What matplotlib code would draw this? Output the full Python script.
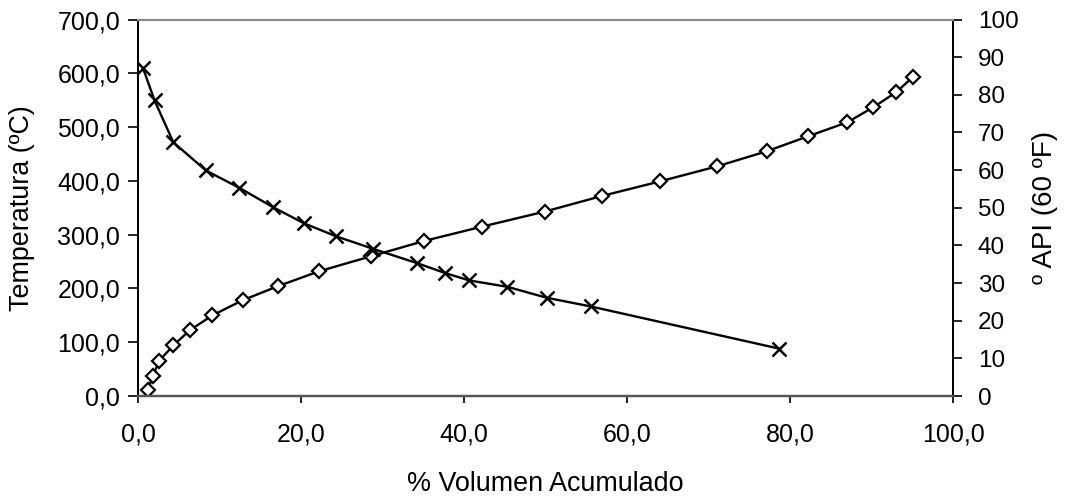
import matplotlib
matplotlib.use('Agg')
import matplotlib.pyplot as plt
from matplotlib.ticker import FuncFormatter, MultipleLocator

plt.rcParams['font.family'] = ['Liberation Sans', 'DejaVu Sans']

# Temperatura vs % volumen (rombos, eje izquierdo)
vol_temp = [1.2, 1.8, 2.6, 4.3, 6.3, 9.1, 12.8, 17.1, 22.2, 28.6, 35.0, 42.2,
            49.9, 56.9, 64.0, 71.0, 77.1, 82.2, 87.0, 90.2, 93.0, 95.1]
temp = [12, 38, 66, 94, 122, 150, 178, 204, 232, 260, 288, 315,
        343, 372, 399, 427, 455, 483, 509, 537, 565, 594]

# API vs % volumen (cruces, eje derecho)
vol_api = [0.6, 2.0, 4.3, 8.3, 12.4, 16.5, 20.3, 24.3, 28.8, 34.2, 37.6,
           40.6, 45.3, 50.1, 55.5, 78.6]
api = [87.0, 78.5, 67.4, 59.9, 55.3, 50.2, 45.9, 42.4, 39.1, 35.3, 32.7,
       30.7, 29.0, 26.1, 23.8, 12.6]

fig = plt.figure(figsize=(10.66, 4.97), dpi=100)
ax = fig.add_axes([0.1297, 0.2032, 0.7646, 0.7575])
ax2 = ax.twinx()

ax.plot(vol_temp, temp, color='black', lw=1.7, marker='D', ms=7,
        mfc='white', mec='black', mew=1.6)
ax2.plot(vol_api, api, color='black', lw=1.7, marker='x', ms=10, mew=1.8)

coma = FuncFormatter(lambda v, p: f'{v:.1f}'.replace('.', ','))
ax.set_xlim(0, 100)
ax.set_ylim(0, 700)
ax2.set_ylim(0, 100)
ax.xaxis.set_major_locator(MultipleLocator(20))
ax.yaxis.set_major_locator(MultipleLocator(100))
ax2.yaxis.set_major_locator(MultipleLocator(10))
ax.xaxis.set_major_formatter(coma)
ax.yaxis.set_major_formatter(coma)

for a in (ax, ax2):
    a.spines['top'].set_color('#888888')
    a.spines['top'].set_linewidth(1.5)
    a.spines['bottom'].set_color('#555555')
    a.spines['bottom'].set_linewidth(1.6)
    a.spines['left'].set_linewidth(1.4)
    a.spines['right'].set_linewidth(1.4)
ax.tick_params(axis='x', labelsize=18, length=5, width=1.2, pad=14)
ax.tick_params(axis='y', labelsize=18, length=7, width=1.2, pad=6)
ax2.tick_params(axis='y', labelsize=17.5, length=6.5, width=1.2, pad=11)

ax.set_xlabel('% Volumen Acumulado', fontsize=19.4, va='center')
ax.set_ylabel('Temperatura (ºC)', fontsize=19.4, va='center')
ax2.set_ylabel('º API (60 ºF)', fontsize=20, va='center', rotation=90)
ax.xaxis.set_label_coords(0.5, -0.234)
ax.yaxis.set_label_coords(-0.1423, 0.5)
ax2.yaxis.set_label_coords(1.112, 0.5)

fig.savefig('out.png', dpi=100)
